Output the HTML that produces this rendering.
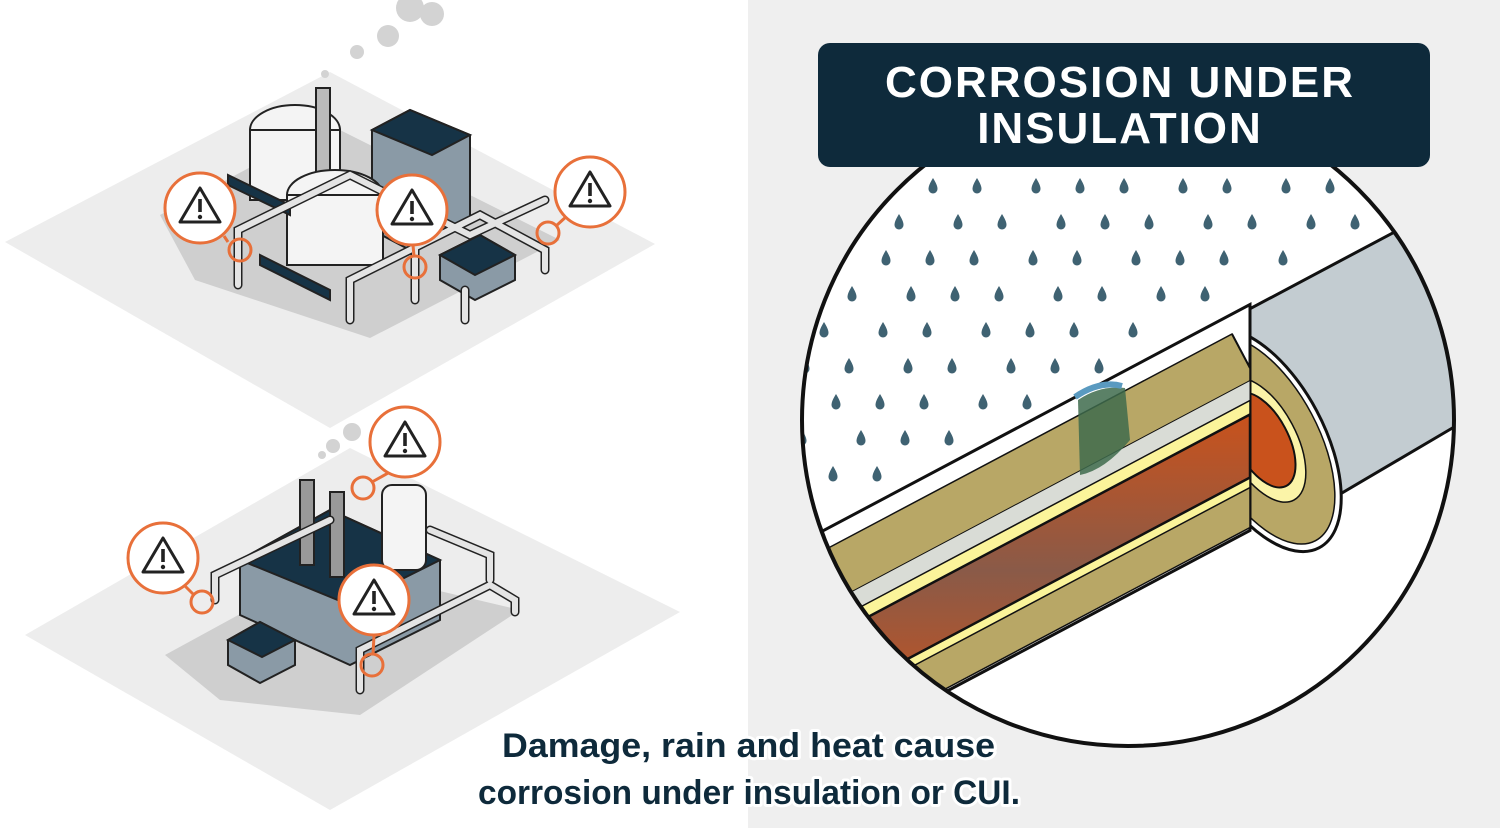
<!DOCTYPE html>
<html><head><meta charset="utf-8"><style>
html,body{margin:0;padding:0;width:1500px;height:828px;overflow:hidden;background:#fff}
svg{display:block}
</style></head><body>
<svg id="s" width="1500" height="828" viewBox="0 0 1500 828" xmlns="http://www.w3.org/2000/svg">
<defs>
<clipPath id="cc"><circle cx="1128" cy="420" r="326"/></clipPath>
<path id="drop" d="M0,-8 C3,-3 4.5,0 4.5,3 A4.5,4.5 0 0 1 -4.5,3 C-4.5,0 -3,-3 0,-8Z" fill="#3f6272"/>
<linearGradient id="og" x1="0" y1="0" x2="0" y2="1"><stop offset="0" stop-color="#c9521c"/><stop offset="0.5" stop-color="#8a5a48"/><stop offset="1" stop-color="#c9521c"/></linearGradient>
<g id="warn"><circle r="35" fill="#fff" stroke="#e8703a" stroke-width="3"/><path d="M0,-20 L20,14 L-20,14Z" fill="#fff" stroke="#222" stroke-width="3" stroke-linejoin="round"/><rect x="-1.8" y="-9" width="3.6" height="13" fill="#222"/><circle cy="9" r="2.2" fill="#222"/></g>
</defs>
<rect x="748" y="0" width="752" height="828" fill="#efefef"/>

<polygon points="5,242 330,72 655,244 330,428" fill="#ededed"/>
<polygon points="160,215 330,125 560,240 370,338 195,280" fill="#cfcfcf"/>
<ellipse cx="295" cy="130" rx="45" ry="25" fill="#f4f4f4" stroke="#222" stroke-width="2"/>
<rect x="250" y="130" width="90" height="70" fill="#f4f4f4" stroke="#222" stroke-width="2"/>
<rect x="316" y="88" width="14" height="110" fill="#bbb" stroke="#222" stroke-width="2"/>
<polygon points="372,130 410,110 470,135 470,220 410,250 372,230" fill="#8a9aa6" stroke="#222" stroke-width="2"/>
<polygon points="372,130 410,110 470,135 432,155" fill="#163346" stroke="#222" stroke-width="2"/>
<ellipse cx="335" cy="195" rx="48" ry="25" fill="#f4f4f4" stroke="#222" stroke-width="2"/>
<rect x="287" y="195" width="96" height="70" fill="#f4f4f4" stroke="#222" stroke-width="2"/>
<polygon points="260,255 330,290 330,300 260,265" fill="#163346" stroke="#222" stroke-width="2"/>
<polygon points="228,175 290,205 290,215 228,185" fill="#163346" stroke="#222" stroke-width="2"/>
<polygon points="440,255 480,235 515,255 515,280 475,300 440,280" fill="#8a9aa6" stroke="#222" stroke-width="2"/>
<polygon points="440,255 480,235 515,255 475,275" fill="#163346" stroke="#222" stroke-width="2"/>
<g fill="none" stroke="#222" stroke-width="9" stroke-linecap="round"><path d="M238,285 V230 L350,175 L470,235 L545,200"/><path d="M350,320 V280 L480,215 L545,250 V270"/><path d="M415,300 V240"/><path d="M465,320 V290"/></g>
<g fill="none" stroke="#e4e4e4" stroke-width="6" stroke-linecap="round"><path d="M238,285 V230 L350,175 L470,235 L545,200"/><path d="M350,320 V280 L480,215 L545,250 V270"/><path d="M415,300 V240"/><path d="M465,320 V290"/></g>
<g fill="#d3d3d3"><circle cx="410" cy="8" r="14"/><circle cx="432" cy="14" r="12"/><circle cx="388" cy="36" r="11"/><circle cx="357" cy="52" r="7"/><circle cx="325" cy="74" r="4"/></g>

<polygon points="25,635 350,448 680,612 330,810" fill="#ededed"/>
<polygon points="165,655 330,565 520,610 360,715 220,700" fill="#cfcfcf"/>
<polygon points="240,560 330,510 440,560 440,620 350,665 240,615" fill="#8a9aa6" stroke="#222" stroke-width="2"/>
<polygon points="240,560 330,510 440,560 350,605" fill="#163346" stroke="#222" stroke-width="2"/>
<rect x="300" y="480" width="14" height="85" fill="#999" stroke="#222" stroke-width="2"/>
<rect x="330" y="492" width="14" height="85" fill="#999" stroke="#222" stroke-width="2"/>
<rect x="382" y="485" width="44" height="85" rx="10" fill="#f4f4f4" stroke="#222" stroke-width="2"/>
<polygon points="228,640 260,622 295,640 295,665 260,683 228,665" fill="#8a9aa6" stroke="#222" stroke-width="2"/>
<polygon points="228,640 260,622 295,640 262,657" fill="#163346" stroke="#222" stroke-width="2"/>
<g fill="none" stroke="#222" stroke-width="9" stroke-linecap="round"><path d="M215,600 V575 L330,520"/><path d="M360,690 V650 L490,585 L515,600 V612"/><path d="M430,530 L490,555 V580"/></g>
<g fill="none" stroke="#e4e4e4" stroke-width="6" stroke-linecap="round"><path d="M215,600 V575 L330,520"/><path d="M360,690 V650 L490,585 L515,600 V612"/><path d="M430,530 L490,555 V580"/></g>
<g fill="#d3d3d3"><circle cx="352" cy="432" r="9"/><circle cx="333" cy="446" r="7"/><circle cx="322" cy="455" r="4"/></g>

<g fill="none" stroke="#e8703a" stroke-width="3">
<circle cx="240" cy="250" r="11"/><circle cx="415" cy="267" r="11"/><circle cx="548" cy="233" r="11"/><circle cx="363" cy="488" r="11"/><circle cx="202" cy="602" r="11"/><circle cx="372" cy="665" r="11"/>
<path d="M224,236 L228,242 M413,245 L414,256 M568,215 L556,226 M390,472 L372,482 M184,585 L193,594 M374,636 L373,654"/>
</g>
<use href="#warn" x="200" y="208"/><use href="#warn" x="412" y="210"/><use href="#warn" x="590" y="192"/>
<use href="#warn" x="405" y="442"/><use href="#warn" x="163" y="558"/><use href="#warn" x="374" y="600"/>

<circle cx="1128" cy="420" r="326" fill="#fff"/>
<g clip-path="url(#cc)" id="inner">
<g id="drops"></g>
<polygon points="1210,330 1500,176 1500,400 1330,500 1300,440" fill="#c3ccd1" stroke="#111" stroke-width="3"/>
<g transform="translate(1262,440) rotate(-28)">
<ellipse rx="62" ry="122" fill="#fff" stroke="#111" stroke-width="3"/>
<ellipse rx="56" ry="114" fill="#b8a766" stroke="#111" stroke-width="1.5"/>
<ellipse rx="34" ry="68" fill="#fbf4a8" stroke="#111" stroke-width="1.5"/>
<ellipse rx="26" ry="52" fill="#c9521c" stroke="#111" stroke-width="2"/>
</g>
<polygon points="780,553.6 1250,304.5 1250,530.5 780,779.6" fill="#fff" stroke="#111" stroke-width="3"/>
<polygon points="780,573.6 1232,334 1250,368 1250,527.5 780,776.6" fill="#b8a766" stroke="#111" stroke-width="1.5"/>
<polygon points="780,629.6 1250,380.5 1250,400.5 780,649.6" fill="#d9dcd6" stroke="#111" stroke-width="1"/>
<polygon points="780,649.6 1250,400.5 1250,487.5 780,736.6" fill="#fbf49a" stroke="#111" stroke-width="1.5"/>
<polygon points="780,663.6 1250,414.5 1250,477.5 780,726.6" fill="url(#og)" stroke="#111" stroke-width="2.5"/>
<path d="M1232,334 L1250,368" stroke="#111" stroke-width="2"/>
<path d="M1078,400 Q1100,385 1125,388 L1130,440 Q1105,470 1080,475 Z" fill="#3e6b4c" opacity="0.85"/>
<path d="M1075,397 Q1100,380 1122,386" stroke="#5a9ac0" stroke-width="6" fill="none"/>
</g>
<circle cx="1128" cy="420" r="326" fill="none" stroke="#111" stroke-width="4"/>

<rect x="818" y="43" width="612" height="124" rx="12" fill="#0e2a3b"/>
<text x="1120" y="97" text-anchor="middle" font-family="Liberation Sans, sans-serif" font-weight="bold" font-size="44" fill="#fff" letter-spacing="2">CORROSION UNDER</text>
<text x="1120" y="143" text-anchor="middle" font-family="Liberation Sans, sans-serif" font-weight="bold" font-size="44" fill="#fff" letter-spacing="2">INSULATION</text>

<g font-family="Liberation Sans, sans-serif" font-weight="bold" font-size="34" fill="#0e2a3b" stroke="#fff" stroke-width="6" paint-order="stroke" stroke-linejoin="round">
<text x="502" y="757" textLength="493" lengthAdjust="spacingAndGlyphs">Damage, rain and heat cause</text>
<text x="478" y="804" textLength="542" lengthAdjust="spacingAndGlyphs">corrosion under insulation or CUI.</text>
</g>
</svg>
<script>
(function(){var g=document.getElementById('drops'),h='';
for(var r=0;r<16;r++){var y=150+r*36;for(var c=0;c<14;c++){var x=805+c*50+(r%2?25:0)+((r*7+c*3)%5-2)*3;
if(y<441-0.53*(x-1000)-20){h+='<use href="#drop" x="'+x+'" y="'+y+'"/>';}}}
g.innerHTML=h;})();
</script>
</body></html>
